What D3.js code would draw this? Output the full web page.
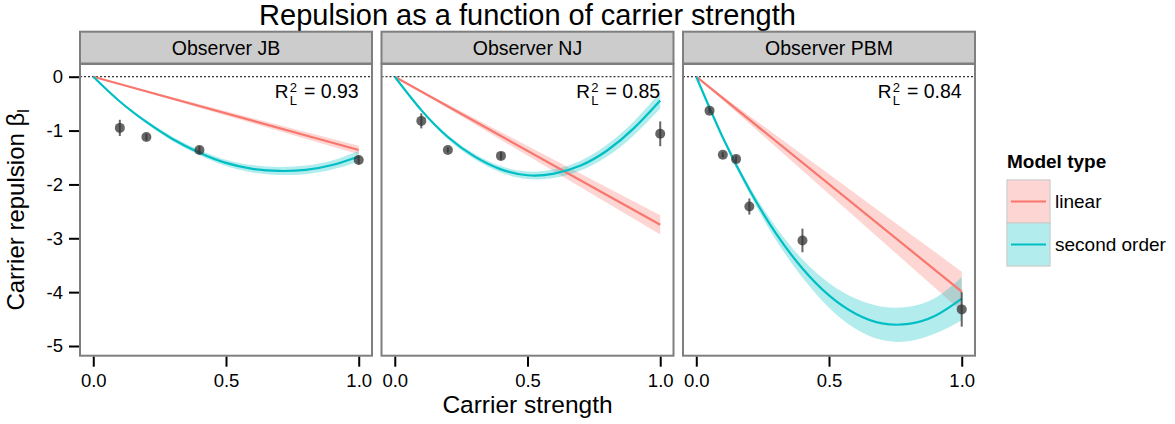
<!DOCTYPE html>
<html>
<head>
  <meta charset="utf-8">
  <title>Repulsion as a function of carrier strength</title>
  <script src="https://d3js.org/d3.v7.min.js"></script>
  <style>
    body { margin: 0; background: white; }
    svg text { font-family: "Liberation Sans", Arial, Helvetica, sans-serif; fill: black; }
  </style>
</head>
<body>
  <div id="chart"></div>
  <script>
    // facet labels and R^2 per observer
    var observers = ["Observer JB", "Observer NJ", "Observer PBM"];
    var r2Labels = ["0.93", "0.85", "0.84"];
    var modelTypes = ["linear", "second order"];
    var xTicks = [0, 0.5, 1];
    var yTicks = [0, -1, -2, -3, -4, -5];

    // measured points (mean and error half-length)
    var pointX = [[0.1, 0.2, 0.4, 1.0], [0.1, 0.2, 0.4, 1.0], [0.05, 0.1, 0.15, 0.2, 0.4, 1.0]];
    var pointY = [[-0.95, -1.12, -1.36, -1.545], [-0.82, -1.36, -1.47, -1.06], [-0.63, -1.45, -1.53, -2.41, -3.04, -4.32]];
    var pointErr = [[0.15, 0.06, 0.07, 0.08], [0.14, 0.05, 0.07, 0.23], [0.05, 0.05, 0.06, 0.15, 0.22, 0.32]];

    // linear model fit (straight line through origin) and its band half width
    var linX = [0, 1];
    var linFit = [[0, -1.36], [0, -2.75], [0, -3.99]];
    var linHalf = [[0, 0.08], [0, 0.18], [0, 0.37]];

    // second order model fit read at these carrier strengths
    var quadX = [0, 0.1, 0.2, 0.3, 0.4, 0.5, 0.6, 0.7, 0.8, 0.9, 1.0];
    var quadFit = [
      [0, -0.46, -0.84, -1.16, -1.41, -1.60, -1.71, -1.75, -1.73, -1.64, -1.48],
      [0, -0.62, -1.12, -1.48, -1.72, -1.83, -1.80, -1.65, -1.37, -0.96, -0.44],
      [0, -1.13, -2.10, -2.91, -3.56, -4.06, -4.40, -4.58, -4.59, -4.44, -4.12]
    ];
    var quadHalf = [
      [0, 0.015, 0.03, 0.04, 0.05, 0.06, 0.07, 0.075, 0.08, 0.085, 0.1],
      [0, 0.02, 0.04, 0.05, 0.06, 0.07, 0.08, 0.09, 0.11, 0.13, 0.15],
      [0, 0.03, 0.07, 0.12, 0.17, 0.23, 0.28, 0.31, 0.32, 0.33, 0.4]
    ];

    var colors = ["#F8766D", "#00BFC4"];

    var width = 1175, height = 424;
    var panelLeft = 80, panelW = 292, panelGap = 9.5;
    var stripTop = 31.7, stripBottom = 63.5, plotTop = 64, plotBottom = 355.7;

    var svg = d3.select("#chart").append("svg")
      .attr("width", width)
      .attr("height", height);

    var y = d3.scaleLinear().domain([-5.18, 0.236]).range([plotBottom, plotTop]);

    // title
    svg.append("text")
      .attr("x", panelLeft + (3 * panelW + 2 * panelGap) / 2)
      .attr("y", 25)
      .attr("text-anchor", "middle")
      .style("font-size", "29px")
      .text("Repulsion as a function of carrier strength");

    // y axis title
    var yt = svg.append("text")
      .attr("transform", "translate(23.5," + ((plotTop + plotBottom) / 2) + ") rotate(-90)")
      .attr("text-anchor", "middle")
      .style("font-size", "24px");
    yt.append("tspan").text("Carrier repulsion \u03B2");
    yt.append("tspan").attr("dy", 5).style("font-size", "16px").text("l");

    // x axis title
    svg.append("text")
      .attr("x", panelLeft + (3 * panelW + 2 * panelGap) / 2)
      .attr("y", 413)
      .attr("text-anchor", "middle")
      .style("font-size", "24.5px")
      .text("Carrier strength");

    // y axis (left of first panel)
    var yAxis = svg.append("g")
      .attr("transform", "translate(" + panelLeft + ",0)")
      .call(d3.axisLeft(y).tickValues(yTicks).tickSize(11).tickPadding(6)
        .tickFormat(function(d) { return String(d); }));
    yAxis.select(".domain").remove();
    yAxis.selectAll(".tick line").attr("stroke", "black").attr("stroke-width", 2);
    yAxis.selectAll(".tick text").style("font-size", "18.5px")
      .style("font-family", "'Liberation Sans', Arial, sans-serif");

    observers.forEach(function(name, i) {
      var x0 = panelLeft + i * (panelW + panelGap);
      var x = d3.scaleLinear().domain([-0.05, 1.05]).range([x0, x0 + panelW]);
      var g = svg.append("g");

      // strip
      g.append("rect")
        .attr("x", x0).attr("y", stripTop)
        .attr("width", panelW).attr("height", stripBottom - stripTop)
        .attr("fill", "#cccccc").attr("stroke", "#7f7f7f").attr("stroke-width", 2);
      g.append("text")
        .attr("x", x0 + panelW / 2).attr("y", 55)
        .attr("text-anchor", "middle")
        .style("font-size", "19.5px")
        .text(name);

      // panel background
      g.append("rect")
        .attr("x", x0).attr("y", plotTop)
        .attr("width", panelW).attr("height", plotBottom - plotTop)
        .attr("fill", "white");

      // zero reference line
      g.append("line")
        .attr("x1", x0).attr("x2", x0 + panelW)
        .attr("y1", y(0)).attr("y2", y(0))
        .attr("stroke", "black").attr("stroke-width", 1)
        .attr("stroke-dasharray", "2,2");

      // ribbons
      var area = d3.area()
        .x(function(d) { return x(d.x); })
        .y0(function(d) { return y(d.y - d.h); })
        .y1(function(d) { return y(d.y + d.h); });
      var line = d3.line()
        .x(function(d) { return x(d.x); })
        .y(function(d) { return y(d.y); });

      var linData = linX.map(function(v, j) { return {x: v, y: linFit[i][j], h: linHalf[i][j]}; });
      var quadData = quadX.map(function(v, j) { return {x: v, y: quadFit[i][j], h: quadHalf[i][j]}; });

      g.append("path").datum(linData)
        .attr("d", area)
        .attr("fill", colors[0]).attr("fill-opacity", 0.3);
      g.append("path").datum(quadData)
        .attr("d", area.curve(d3.curveNatural))
        .attr("fill", colors[1]).attr("fill-opacity", 0.3);

      g.append("path").datum(linData)
        .attr("d", line)
        .attr("fill", "none").attr("stroke", colors[0]).attr("stroke-width", 2.2);
      g.append("path").datum(quadData)
        .attr("d", line.curve(d3.curveNatural))
        .attr("fill", "none").attr("stroke", colors[1]).attr("stroke-width", 2.2);

      // points with error bars
      var pts = pointX[i].map(function(v, j) { return {x: v, y: pointY[i][j], e: pointErr[i][j]}; });
      g.selectAll(".err").data(pts).enter().append("line")
        .attr("x1", function(d) { return x(d.x); })
        .attr("x2", function(d) { return x(d.x); })
        .attr("y1", function(d) { return y(d.y - d.e); })
        .attr("y2", function(d) { return y(d.y + d.e); })
        .attr("stroke", "#333").attr("stroke-opacity", 0.75).attr("stroke-width", 2);
      g.selectAll(".pt").data(pts).enter().append("circle")
        .attr("cx", function(d) { return x(d.x); })
        .attr("cy", function(d) { return y(d.y); })
        .attr("r", 5)
        .attr("fill", "#333").attr("fill-opacity", 0.75);

      // R^2 label, right aligned at x = 1
      var eq = g.append("text")
        .attr("x", x(1)).attr("y", 98)
        .attr("text-anchor", "end")
        .style("font-size", "19.5px")
        .text("= " + r2Labels[i]);
      var eqLen = eq.node().getComputedTextLength();
      var sx = x(1) - eqLen - 7;
      g.append("text").attr("x", sx).attr("y", 91.5).attr("text-anchor", "end")
        .style("font-size", "13px").text("2");
      g.append("text").attr("x", sx).attr("y", 105).attr("text-anchor", "end")
        .style("font-size", "13px").text("L");
      g.append("text").attr("x", sx - 8.5).attr("y", 98).attr("text-anchor", "end")
        .style("font-size", "19px").text("R");

      // panel border
      g.append("rect")
        .attr("x", x0).attr("y", plotTop)
        .attr("width", panelW).attr("height", plotBottom - plotTop)
        .attr("fill", "none").attr("stroke", "#7f7f7f").attr("stroke-width", 2);

      // x axis
      var xa = svg.append("g")
        .attr("transform", "translate(0," + (plotBottom + 1) + ")")
        .call(d3.axisBottom(x).tickValues(xTicks).tickSize(10).tickPadding(7).tickFormat(d3.format(".1f")));
      xa.select(".domain").remove();
      xa.selectAll(".tick line").attr("stroke", "black").attr("stroke-width", 2);
      xa.selectAll(".tick text").style("font-size", "18.5px")
        .style("font-family", "'Liberation Sans', Arial, sans-serif");
    });

    // legend
    var legX = 1007, legY = 180, keyW = 43, keyH = 43;
    svg.append("text")
      .attr("x", legX).attr("y", 168)
      .style("font-size", "19px").style("font-weight", "bold")
      .text("Model type");
    modelTypes.forEach(function(m, k) {
      var ky = legY + k * keyH;
      svg.append("rect")
        .attr("x", legX).attr("y", ky).attr("width", keyW).attr("height", keyH)
        .attr("fill", "white").attr("stroke", "#c8c8c8").attr("stroke-width", 1.2);
      svg.append("rect")
        .attr("x", legX + 0.6).attr("y", ky + 0.6).attr("width", keyW - 1.2).attr("height", keyH - 1.2)
        .attr("fill", colors[k]).attr("fill-opacity", 0.3);
      svg.append("line")
        .attr("x1", legX + 4).attr("x2", legX + keyW - 4)
        .attr("y1", ky + keyH / 2).attr("y2", ky + keyH / 2)
        .attr("stroke", colors[k]).attr("stroke-width", 2);
      svg.append("text")
        .attr("x", legX + keyW + 5).attr("y", ky + keyH / 2)
        .attr("dy", "0.35em")
        .style("font-size", "19px")
        .text(m);
    });
  </script>
</body>
</html>
